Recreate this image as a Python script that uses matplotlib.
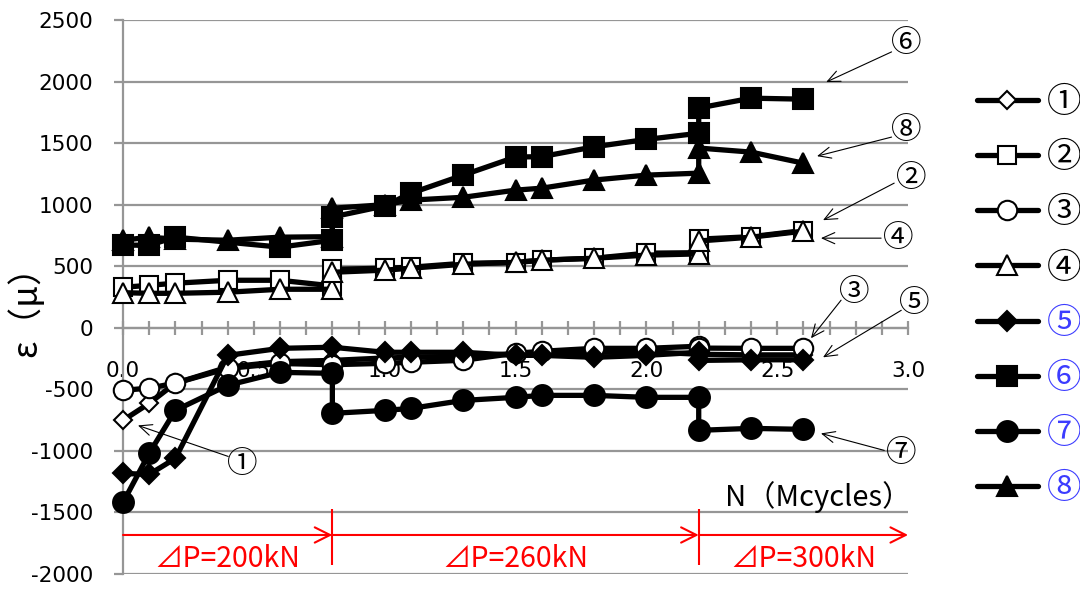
import matplotlib
matplotlib.use("Agg")
import matplotlib.pyplot as plt
from matplotlib.ticker import MultipleLocator

plt.rcParams['font.family'] = ['DejaVu Sans', 'Noto Sans CJK JP']
plt.rcParams['axes.unicode_minus'] = False
CJK = ['Noto Sans CJK JP', 'DejaVu Sans']

# ---- data (N in Mcycles, strain in micro) ----
x_1 = [0.0, 0.1, 0.2, 0.4, 0.6, 0.8, 1.0, 1.1, 1.3, 1.5, 1.6, 1.8, 2.0, 2.2, 2.4, 2.6]
y_1 = [-752, -614, -450, -320, -275, -265, -245, -240, -230, -210, -205, -200, -195, -215, -220, -220]

x_2 = [0.0, 0.1, 0.2, 0.4, 0.6, 0.8, 0.8, 1.0, 1.1, 1.3, 1.5, 1.6, 1.8, 2.0, 2.2, 2.2, 2.4, 2.6]
y_2 = [329, 345, 362, 386, 386, 340, 475, 484, 492, 524, 530, 549, 565, 606, 610, 720, 740, 790]

x_3 = [0.0, 0.1, 0.2, 0.4, 0.6, 0.8, 1.0, 1.1, 1.3, 1.5, 1.6, 1.8, 2.0, 2.2, 2.2, 2.4, 2.6]
y_3 = [-508, -490, -450, -330, -290, -300, -289, -280, -264, -207, -191, -167, -167, -150, -165, -167, -167]

x_4 = [0.0, 0.1, 0.2, 0.4, 0.6, 0.8, 0.8, 1.0, 1.1, 1.3, 1.5, 1.6, 1.8, 2.0, 2.2, 2.2, 2.4, 2.6]
y_4 = [285, 280, 280, 289, 313, 313, 451, 468, 484, 516, 532, 549, 565, 590, 600, 705, 736, 785]

x_5 = [0.0, 0.1, 0.2, 0.4, 0.6, 0.8, 1.0, 1.1, 1.3, 1.5, 1.6, 1.8, 2.0, 2.2, 2.2, 2.4, 2.6]
y_5 = [-1183, -1191, -1061, -224, -167, -158, -199, -199, -199, -224, -224, -240, -224, -199, -265, -260, -260]

x_6 = [0.0, 0.1, 0.2, 0.6, 0.8, 0.8, 1.0, 1.1, 1.3, 1.5, 1.6, 1.8, 2.0, 2.2, 2.2, 2.4, 2.6]
y_6 = [671, 671, 736, 655, 711, 900, 990, 1093, 1240, 1387, 1390, 1470, 1530, 1580, 1785, 1865, 1857]

x_7 = [0.0, 0.1, 0.2, 0.4, 0.6, 0.8, 0.8, 1.0, 1.1, 1.3, 1.5, 1.6, 1.8, 2.0, 2.2, 2.2, 2.4, 2.6]
y_7 = [-1419, -1020, -671, -467, -362, -370, -695, -671, -655, -590, -565, -549, -549, -565, -565, -833, -817, -825]

x_8 = [0.0, 0.1, 0.2, 0.4, 0.6, 0.8, 0.8, 1.0, 1.1, 1.3, 1.5, 1.6, 1.8, 2.0, 2.2, 2.2, 2.4, 2.6]
y_8 = [711, 736, 720, 711, 736, 740, 971, 1000, 1037, 1060, 1118, 1134, 1200, 1240, 1256, 1460, 1427, 1337]

names = ['①', '②', '③', '④', '⑤', '⑥', '⑦', '⑧']

y_ticks = [2500, 2000, 1500, 1000, 500, 0, -500, -1000, -1500, -2000]
y_ticklabels = ['2500', '2000', '1500', '1000', '500', '0', '-500', '-1000', '-1500', '-2000']
x_ticks = [0.0, 0.5, 1.0, 1.5, 2.0, 2.5, 3.0]
x_ticklabels = ['0.0', '0.5', '1.0', '1.5', '2.0', '2.5', '3.0']

# load stages
stage_edges = [0.0, 0.8, 2.2, 3.0]
stage_labels = ['⊿P=200kN', '⊿P=260kN', '⊿P=300kN']

# callouts: name, arrow tip, arrow start, text position
callouts = [
    ('⑥', (2.687, 1996), (2.937, 2241), (2.993, 2313)),
    ('⑧', (2.652, 1394), (2.937, 1549), (2.993, 1606)),
    ('②', (2.675, 874), (2.947, 1175), (3.012, 1215)),
    ('④', (2.667, 728), (2.897, 728), (2.962, 728)),
    ('③', (2.629, -85), (2.744, 224), (2.794, 290)),
    ('⑤', (2.675, -240), (2.974, 142), (3.023, 199)),
    ('⑦', (2.667, -858), (2.909, -996), (2.974, -1020)),
    ('①', (0.057, -793), (0.402, -1045), (0.455, -1110)),
]

grey = '#969696'
blue = '#3c3cff'

fig = plt.figure(figsize=(10.8, 5.9), dpi=100)
ax = fig.add_axes([0.1139, 0.0271, 0.7269, 0.939])

series = [
    (x_1, y_1, 'D', 'white', 9),
    (x_2, y_2, 's', 'white', 13),
    (x_3, y_3, 'o', 'white', 14),
    (x_4, y_4, '^', 'white', 14),
    (x_5, y_5, 'D', 'black', 10),
    (x_6, y_6, 's', 'black', 14),
    (x_7, y_7, 'o', 'black', 15),
    (x_8, y_8, '^', 'black', 14),
]
for (xs, ys, mk, fc, ms), name in zip(series, names):
    ax.plot(xs, ys, color='black', lw=3.8, marker=mk, markersize=ms,
            markerfacecolor=fc, markeredgecolor='black', markeredgewidth=1.5,
            solid_capstyle='round', solid_joinstyle='round', label=name,
            zorder=3, clip_on=False)

ax.set_xlim(0, 3.0)
ax.set_ylim(-2000, 2500)
ax.set_yticks(y_ticks)
ax.set_yticklabels(y_ticklabels)
ax.set_xticks(x_ticks)
ax.set_xticklabels(x_ticklabels)
ax.xaxis.set_minor_locator(MultipleLocator(0.1))

for s in ['top', 'right']:
    ax.spines[s].set_visible(False)
ax.spines['left'].set_color(grey)
ax.spines['left'].set_linewidth(1.6)
ax.spines['bottom'].set_position(('data', 0))
ax.spines['bottom'].set_color(grey)
ax.spines['bottom'].set_linewidth(1.6)

ax.yaxis.grid(True, color=grey, lw=1.6)
ax.set_axisbelow(True)
ax.tick_params(axis='y', direction='out', length=6.5, width=1.6, color=grey,
               labelsize=15.5, pad=15)
ax.tick_params(axis='x', which='both', direction='inout', length=10, width=1.6,
               color=grey, labelsize=15.5, pad=19)

ax.set_ylabel('ε（μ）', family=CJK, fontsize=25)
ax.yaxis.set_label_coords(-0.100, 0.49)

ax.text(3.012, -1378, 'N（Mcycles）', family=CJK, fontsize=21,
        ha='right', va='center')

# load stage arrows
y_arrow = -1683
for i in range(3):
    ax.annotate('', xy=(stage_edges[i + 1], y_arrow), xytext=(stage_edges[i], y_arrow),
                arrowprops=dict(arrowstyle='->,head_length=1.1,head_width=0.55',
                                color='red', lw=1.5, shrinkA=0, shrinkB=0),
                annotation_clip=False)
    ax.text((stage_edges[i] + stage_edges[i + 1]) / 2, -1875, stage_labels[i],
            family=CJK, fontsize=20.5, color='red', ha='center', va='center')
ax.vlines(stage_edges[1:3], -1930, -1470, color='red', lw=1.5)

for name, tip, start, txt in callouts:
    ax.annotate('', xy=tip, xytext=start, annotation_clip=False,
                arrowprops=dict(arrowstyle='->,head_length=0.9,head_width=0.4',
                                color='black', lw=0.8, shrinkA=0, shrinkB=0))
    ax.text(txt[0], txt[1], name, family=CJK, fontsize=22,
            ha='center', va='center', clip_on=False)

leg = ax.legend(loc='center left', bbox_to_anchor=(0.9046, 0.499),
                bbox_transform=fig.transFigure, frameon=False, borderpad=0,
                borderaxespad=0, handlelength=1.75, handletextpad=0.25,
                labelspacing=0.58, prop={'family': CJK, 'size': 25})
for i, t in enumerate(leg.get_texts()):
    t.set_color('black' if i < 4 else blue)

fig.savefig('out.png', dpi=100)
